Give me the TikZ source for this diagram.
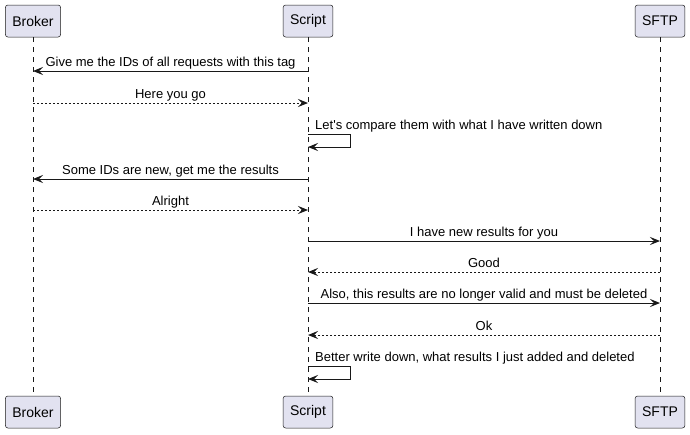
\documentclass[tikz,border=0pt]{standalone}
\usepackage{fontspec}
\setmainfont{Liberation Sans}
\usetikzlibrary{arrows.meta}

\definecolor{partfill}{HTML}{E2E2F0}
\definecolor{ink}{HTML}{181818}

\begin{document}
\begin{tikzpicture}[x=1pt, y=-1pt,
    part/.style={draw=ink, line width=0.5pt, fill=partfill, rounded corners=2.5pt,
        minimum height=32pt, inner xsep=7pt, font=\fontsize{14}{16}\selectfont},
    life/.style={draw=ink, line width=0.5pt, dash pattern=on 5pt off 5pt},
    call/.style={draw=ink, line width=1pt, -{Stealth[length=10pt, width=8pt, inset=4pt]}},
    reply/.style={call, dash pattern=on 2pt off 2pt},
    msg/.style={midway, above, inner sep=1pt, text height=10pt, text depth=3pt,
        font=\fontsize{13}{15}\selectfont},
    selfmsg/.style={anchor=south west, inner sep=1pt, xshift=6pt, text height=10pt,
        text depth=3pt, font=\fontsize{13}{15}\selectfont}]
    \useasboundingbox (0,0) rectangle (690,434);

    % participants, top and bottom
    \node[part] (brokerT) at (33,21) {Broker};
    \node[part] (scriptT) at (308,21) {Script};
    \node[part] (sftpT) at (660,21) {SFTP};
    \node[part] (brokerB) at (33,412) {Broker};
    \node[part] (scriptB) at (308,412) {Script};
    \node[part] (sftpB) at (660,412) {SFTP};

    % lifelines
    \draw[life] (brokerT) -- (brokerB);
    \draw[life] (scriptT) -- (scriptB);
    \draw[life] (sftpT) -- (sftpB);

    % message rows
    \coordinate (r1) at (0,71);
    \coordinate (r2) at (0,103);
    \coordinate (r3) at (0,134);
    \coordinate (r3b) at (0,147);
    \coordinate (r4) at (0,179);
    \coordinate (r5) at (0,210);
    \coordinate (r6) at (0,241);
    \coordinate (r7) at (0,272);
    \coordinate (r8) at (0,303);
    \coordinate (r9) at (0,335);
    \coordinate (r10) at (0,366);
    \coordinate (r10b) at (0,379);

    \draw[call] (scriptT |- r1) -- node[msg]{Give me the IDs of all requests with this tag} (brokerT |- r1);
    \draw[reply] (brokerT |- r2) -- node[msg]{Here you go} (scriptT |- r2);
    \draw[call] (scriptT |- r3) -- ++(42,0) |- (scriptT |- r3b);
    \node[selfmsg] (self1) at (scriptT |- r3) {Let\textquotesingle s compare them with what I have written down};
    \draw[call] (scriptT |- r4) -- node[msg]{Some IDs are new, get me the results} (brokerT |- r4);
    \draw[reply] (brokerT |- r5) -- node[msg]{Alright} (scriptT |- r5);
    \draw[call] (scriptT |- r6) -- node[msg]{I have new results for you} (sftpT |- r6);
    \draw[reply] (sftpT |- r7) -- node[msg]{Good} (scriptT |- r7);
    \draw[call] (scriptT |- r8) -- node[msg]{Also, this results are no longer valid and must be deleted} (sftpT |- r8);
    \draw[reply] (sftpT |- r9) -- node[msg]{Ok} (scriptT |- r9);
    \draw[call] (scriptT |- r10) -- ++(42,0) |- (scriptT |- r10b);
    \node[selfmsg] (self2) at (scriptT |- r10) {Better write down, what results I just added and deleted};
\end{tikzpicture}
\end{document}
